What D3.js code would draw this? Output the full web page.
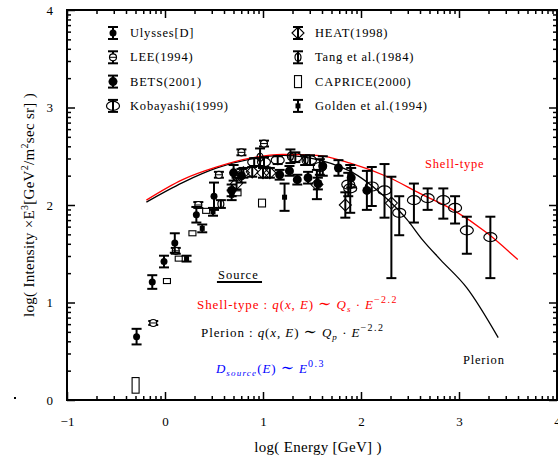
<!DOCTYPE html>
<html>
<head>
<meta charset="utf-8">
<script src="https://cdn.jsdelivr.net/npm/d3@7"></script>
<style>
  body { margin: 0; background: #fff; }
  text { font-family: "Liberation Serif", "DejaVu Serif", serif; }
</style>
</head>
<body>
<div id="chart"></div>
<script>
// each point: [log E, log flux, err down, err up]
var ulysses = [[-0.29, 0.65, 0.08, 0.08], [-0.13, 1.21, 0.07, 0.07], [-0.01, 1.42, 0.06, 0.06],
  [0.10, 1.61, 0.10, 0.10], [0.32, 1.90, 0.08, 0.08], [0.50, 2.09, 0.14, 0.14]];
var lee = [[-0.12, 0.79, 0.02, 0.02], [0.11, 1.53, 0.03, 0.03], [0.34, 2.00, 0.03, 0.03],
  [0.55, 2.31, 0.03, 0.03], [0.78, 2.54, 0.03, 0.03], [1.01, 2.63, 0.03, 0.03]];
var bets = [[0.68, 2.15, 0.06, 0.06], [0.70, 2.33, 0.08, 0.08], [0.78, 2.30, 0.07, 0.07],
  [1.17, 2.31, 0.05, 0.05], [1.27, 2.35, 0.05, 0.05], [1.35, 2.26, 0.05, 0.05],
  [1.46, 2.28, 0.06, 0.06], [1.56, 2.22, 0.06, 0.06], [1.61, 2.40, 0.10, 0.10],
  [1.77, 2.38, 0.08, 0.08], [1.90, 2.28, 0.10, 0.10], [2.06, 2.15, 0.20, 0.20]];
var kobayashi = [[0.91, 2.44, 0.04, 0.04], [1.01, 2.44, 0.05, 0.05], [1.15, 2.46, 0.04, 0.04],
  [1.33, 2.49, 0.05, 0.05], [1.48, 2.46, 0.05, 0.05], [1.58, 2.39, 0.08, 0.08],
  [1.87, 2.21, 0.12, 0.12], [1.89, 2.17, 0.25, 0.24], [2.11, 2.19, 0.20, 0.20],
  [2.24, 2.15, 0.28, 0.27], [2.39, 1.92, 0.23, 0.17], [2.54, 2.05, 0.23, 0.17],
  [2.68, 2.07, 0.12, 0.10], [2.84, 2.05, 0.19, 0.12], [2.96, 1.97, 0.16, 0.12],
  [3.08, 1.74, 0.24, 0.14], [3.32, 1.67, 0.42, 0.21]];
var heat = [[0.73, 2.22, 0.06, 0.06], [0.80, 2.33, 0.05, 0.05], [0.89, 2.34, 0.05, 0.05],
  [1.00, 2.33, 0.05, 0.05], [1.07, 2.33, 0.05, 0.05], [1.55, 2.21, 0.15, 0.15],
  [1.84, 2.00, 0.13, 0.13], [2.31, 2.02, 0.77, 0.27]];
var tang = [[0.57, 2.01, 0.04, 0.04], [0.97, 2.49, 0.09, 0.09], [1.28, 2.50, 0.07, 0.07],
  [1.43, 2.46, 0.05, 0.05]];
var caprice = [[-0.30, 0.15, 0.08, 0.08], [0.02, 1.22, 0.025, 0.025], [0.14, 1.45, 0.025, 0.025],
  [0.28, 1.71, 0.025, 0.025], [0.42, 1.94, 0.025, 0.025], [0.74, 2.12, 0.025, 0.025],
  [0.99, 2.02, 0.04, 0.04]];
var golden = [[0.22, 1.45, 0.03, 0.03], [0.38, 1.76, 0.04, 0.04], [0.49, 1.93, 0.04, 0.04],
  [0.68, 2.10, 0.05, 0.05], [1.22, 2.08, 0.14, 0.14]];

// model curves
var shellCurve = [[-0.19, 2.05], [0.18, 2.26], [0.53, 2.39], [0.87, 2.48], [1.20, 2.52],
  [1.55, 2.51], [1.89, 2.43], [2.27, 2.29], [2.60, 2.12], [2.94, 1.95], [3.29, 1.71], [3.60, 1.44]];
var plerionCurve = [[-0.19, 2.03], [0.18, 2.23], [0.53, 2.38], [0.87, 2.47], [1.20, 2.51],
  [1.58, 2.46], [1.79, 2.39], [1.92, 2.33], [2.12, 2.19], [2.30, 2.03], [2.47, 1.85],
  [2.63, 1.64], [2.81, 1.44], [3.08, 1.15], [3.40, 0.64]];

var xMajor = [-1, 0, 1, 2, 3, 4];
var yMajor = [0, 1, 2, 3, 4];

var W = 558, H = 463;
var svg = d3.select('#chart').append('svg').attr('width', W).attr('height', H);

var x = d3.scaleLinear().domain([-1, 4]).range([67, 557]);
var y = d3.scaleLinear().domain([0, 4]).range([400, 10]);

// minor ticks at log positions inside each decade
function minorTicks(lo, hi){
  var t = [];
  for (var d = lo; d < hi; d++)
    for (var k = 2; k < 10; k++) t.push(d + Math.log10(k));
  return t;
}
var xMinor = minorTicks(-1, 4), yMinor = minorTicks(0, 4);

function styleAxis(g){
  g.select('.domain').remove();
  g.selectAll('line').attr('stroke', '#000').attr('stroke-width', 1.5);
  g.selectAll('text').attr('font-size', 13).attr('fill', '#000')
    .style('font-family', '"Liberation Serif", serif');
}
var intFmt = function(d){ return d < 0 ? '\u2212' + (-d) : String(d); };

svg.append('g').attr('transform', 'translate(0,400)')
  .call(d3.axisBottom(x).tickValues(xMinor).tickSize(-4).tickFormat('')).call(styleAxis);
svg.append('g').attr('transform', 'translate(0,400)')
  .call(d3.axisBottom(x).tickValues(xMajor).tickSize(-8).tickPadding(17).tickFormat(intFmt)).call(styleAxis);
svg.append('g').attr('transform', 'translate(0,10)')
  .call(d3.axisTop(x).tickValues(xMinor).tickSize(-4).tickFormat('')).call(styleAxis);
svg.append('g').attr('transform', 'translate(0,10)')
  .call(d3.axisTop(x).tickValues(xMajor).tickSize(-8).tickFormat('')).call(styleAxis);
svg.append('g').attr('transform', 'translate(67,0)')
  .call(d3.axisLeft(y).tickValues(yMinor).tickSize(-4).tickFormat('')).call(styleAxis);
svg.append('g').attr('transform', 'translate(67,0)')
  .call(d3.axisLeft(y).tickValues(yMajor).tickSize(-8).tickPadding(14).tickFormat(intFmt)).call(styleAxis);
svg.append('g').attr('transform', 'translate(557,0)')
  .call(d3.axisRight(y).tickValues(yMinor).tickSize(-4).tickFormat('')).call(styleAxis);
svg.append('g').attr('transform', 'translate(557,0)')
  .call(d3.axisRight(y).tickValues(yMajor).tickSize(-8).tickFormat('')).call(styleAxis);

// frame
svg.append('rect').attr('x', 67).attr('y', 10).attr('width', 490).attr('height', 390)
  .attr('fill', 'none').attr('stroke', '#000').attr('stroke-width', 2);

svg.append('rect').attr('x', 14).attr('y', 397).attr('width', 2).attr('height', 2).attr('fill', '#000');

// curves
var line = d3.line().x(function(d){ return x(d[0]); }).y(function(d){ return y(d[1]); })
  .curve(d3.curveMonotoneX);
svg.append('path').datum(plerionCurve).attr('d', line)
  .attr('fill', 'none').attr('stroke', '#000').attr('stroke-width', 1.3);
svg.append('path').datum(shellCurve).attr('d', line)
  .attr('fill', 'none').attr('stroke', '#f00').attr('stroke-width', 1.3);

// markers
var markers = {
  ulysses: function(g){ g.append('circle').attr('r', 3.5).attr('fill', '#000'); },
  lee: function(g){ g.append('circle').attr('r', 3.5).attr('fill', '#fff').attr('stroke', '#000').attr('stroke-width', 1.2);
    g.append('line').attr('x1', -3.5).attr('x2', 3.5).attr('stroke', '#000').attr('stroke-width', 1); },
  bets: function(g){ g.append('circle').attr('r', 4.5).attr('fill', '#000'); },
  kobayashi: function(g){ g.append('ellipse').attr('rx', 6.5).attr('ry', 4.5).attr('fill', 'none').attr('stroke', '#000').attr('stroke-width', 1.2); },
  heat: function(g){ g.append('path').attr('d', 'M-6,0L0,-6L6,0L0,6Z').attr('fill', 'none').attr('stroke', '#000').attr('stroke-width', 1.1); },
  tang: function(g){ g.append('ellipse').attr('rx', 3).attr('ry', 4).attr('fill', 'none').attr('stroke', '#000').attr('stroke-width', 1.2); },
  caprice: function(g, h){ g.append('rect').attr('x', -3.5).attr('y', -h).attr('width', 7).attr('height', 2 * h)
    .attr('fill', '#fff').attr('stroke', '#000').attr('stroke-width', 1.1); },
  golden: function(g){ g.append('rect').attr('x', -2.5).attr('y', -2.5).attr('width', 5).attr('height', 5).attr('fill', '#000'); }
};

function drawSet(data, kind, thin){
  var g = svg.append('g');
  data.forEach(function(d){
    var p = g.append('g').attr('transform', 'translate(' + x(d[0]) + ',' + y(d[1]) + ')');
    if (kind === 'caprice') { markers.caprice(p, Math.max(2.5, y(d[1] - d[2]) - y(d[1]))); return; }
    var lo = y(d[1] - d[2]) - y(d[1]), hi = y(d[1]) - y(d[1] + d[3]);
    var sw = thin ? 1 : 2;
    p.append('line').attr('y1', -hi).attr('y2', lo).attr('stroke', '#000').attr('stroke-width', sw);
    p.append('line').attr('x1', -5).attr('x2', 5).attr('y1', -hi).attr('y2', -hi).attr('stroke', '#000').attr('stroke-width', 2);
    p.append('line').attr('x1', -5).attr('x2', 5).attr('y1', lo).attr('y2', lo).attr('stroke', '#000').attr('stroke-width', 2);
    markers[kind](p);
  });
}
drawSet(caprice, 'caprice');
drawSet(golden, 'golden');
drawSet(tang, 'tang');
drawSet(heat, 'heat');
drawSet(lee, 'lee');
drawSet(ulysses, 'ulysses');
drawSet(kobayashi, 'kobayashi');
drawSet(bets, 'bets');

// legend
var legendNames = ['Ulysses[D]', 'LEE(1994)', 'BETS(2001)', 'Kobayashi(1999)',
  'HEAT(1998)', 'Tang et al.(1984)', 'CAPRICE(2000)', 'Golden et al.(1994)'];
var legendKinds = ['ulysses', 'lee', 'bets', 'kobayashi', 'heat', 'tang', 'caprice', 'golden'];
legendKinds.forEach(function(k, i){
  var col = Math.floor(i / 4), row = i % 4;
  var mx = col ? 298 : 113, my = 33 + row * 24.3;
  var p = svg.append('g').attr('transform', 'translate(' + mx + ',' + my + ')');
  if (k === 'caprice') markers.caprice(p, 6);
  else {
    p.append('line').attr('y1', -6).attr('y2', 6).attr('stroke', '#000').attr('stroke-width', 2);
    p.append('line').attr('x1', -5).attr('x2', 5).attr('y1', -6).attr('y2', -6).attr('stroke', '#000').attr('stroke-width', 2);
    p.append('line').attr('x1', -5).attr('x2', 5).attr('y1', 6).attr('y2', 6).attr('stroke', '#000').attr('stroke-width', 2);
    markers[k](p);
  }
  svg.append('text').attr('x', mx + 17).attr('y', my + 4).attr('font-size', 12.5)
    .attr('letter-spacing', 0.8).text(legendNames[i]);
});

// axis titles
svg.append('text').attr('x', 318).attr('y', 452).attr('text-anchor', 'middle')
  .attr('font-size', 15).attr('letter-spacing', 0.3).text('log( Energy [GeV] )');
var yt = svg.append('text').attr('transform', 'translate(34,205) rotate(-90)')
  .attr('text-anchor', 'middle').attr('font-size', 15).attr('letter-spacing', 0.3);
yt.append('tspan').text('log( Intensity  \u00d7E');
yt.append('tspan').attr('dy', -6).attr('font-size', 10).text('3');
yt.append('tspan').attr('dy', 6).text('[GeV');
yt.append('tspan').attr('dy', -6).attr('font-size', 10).text('2');
yt.append('tspan').attr('dy', 6).text('/m');
yt.append('tspan').attr('dy', -6).attr('font-size', 10).text('2');
yt.append('tspan').attr('dy', 6).text('sec sr] )');

// annotations
svg.append('text').attr('x', 425).attr('y', 168).attr('font-size', 12.5).attr('fill', '#f00')
  .attr('letter-spacing', 0.8).text('Shell-type');
svg.append('text').attr('x', 463).attr('y', 364).attr('font-size', 12.5)
  .attr('letter-spacing', 0.8).text('Plerion');
svg.append('text').attr('x', 218).attr('y', 279).attr('font-size', 12.5)
  .attr('letter-spacing', 1).text('Source');
svg.append('line').attr('x1', x(0.53)).attr('x2', x(0.99)).attr('y1', 282).attr('y2', 282)
  .attr('stroke', '#000').attr('stroke-width', 2);

function formula(tx, ty, color, parts){
  var t = svg.append('text').attr('x', tx).attr('y', ty).attr('font-size', 13)
    .attr('fill', color).attr('letter-spacing', 0.9);
  parts.forEach(function(p){
    var s = t.append('tspan').text(p[0]);
    if (p[1] === 'i') s.attr('font-style', 'italic');
    if (p[1] === 'sup') s.attr('dy', -6).attr('font-size', 10).attr('letter-spacing', 1.5);
    if (p[1] === 'sub') s.attr('dy', 3).attr('font-size', 9).attr('font-style', 'italic').attr('letter-spacing', 1.2);
    if (p[1] === 'big') s.attr('font-size', 16);
    if (p[2]) s.attr('dy', p[2]);
  });
}
formula(197, 309, '#f00', [['Shell-type : '], ['q', 'i'], ['('], ['x', 'i'], [', '], ['E', 'i'], [') '], ['\u223c', 'big'], [' '],
  ['Q', 'i'], ['s', 'sub'], [' \u00b7 ', null, -3], ['E', 'i'], ['\u22122.2', 'sup']]);
formula(201, 337, '#000', [['Plerion : '], ['q', 'i'], ['('], ['x', 'i'], [', '], ['E', 'i'], [') '], ['\u223c', 'big'], [' '],
  ['Q', 'i'], ['p', 'sub'], [' \u00b7 ', null, -3], ['E', 'i'], ['\u22122.2', 'sup']]);
formula(216, 373, '#00f', [['D', 'i'], ['source', 'sub'], ['(', null, -3], ['E', 'i'], [') '], ['\u223c', 'big'], [' '],
  ['E', 'i'], ['0.3', 'sup']]);
</script>
</body>
</html>
